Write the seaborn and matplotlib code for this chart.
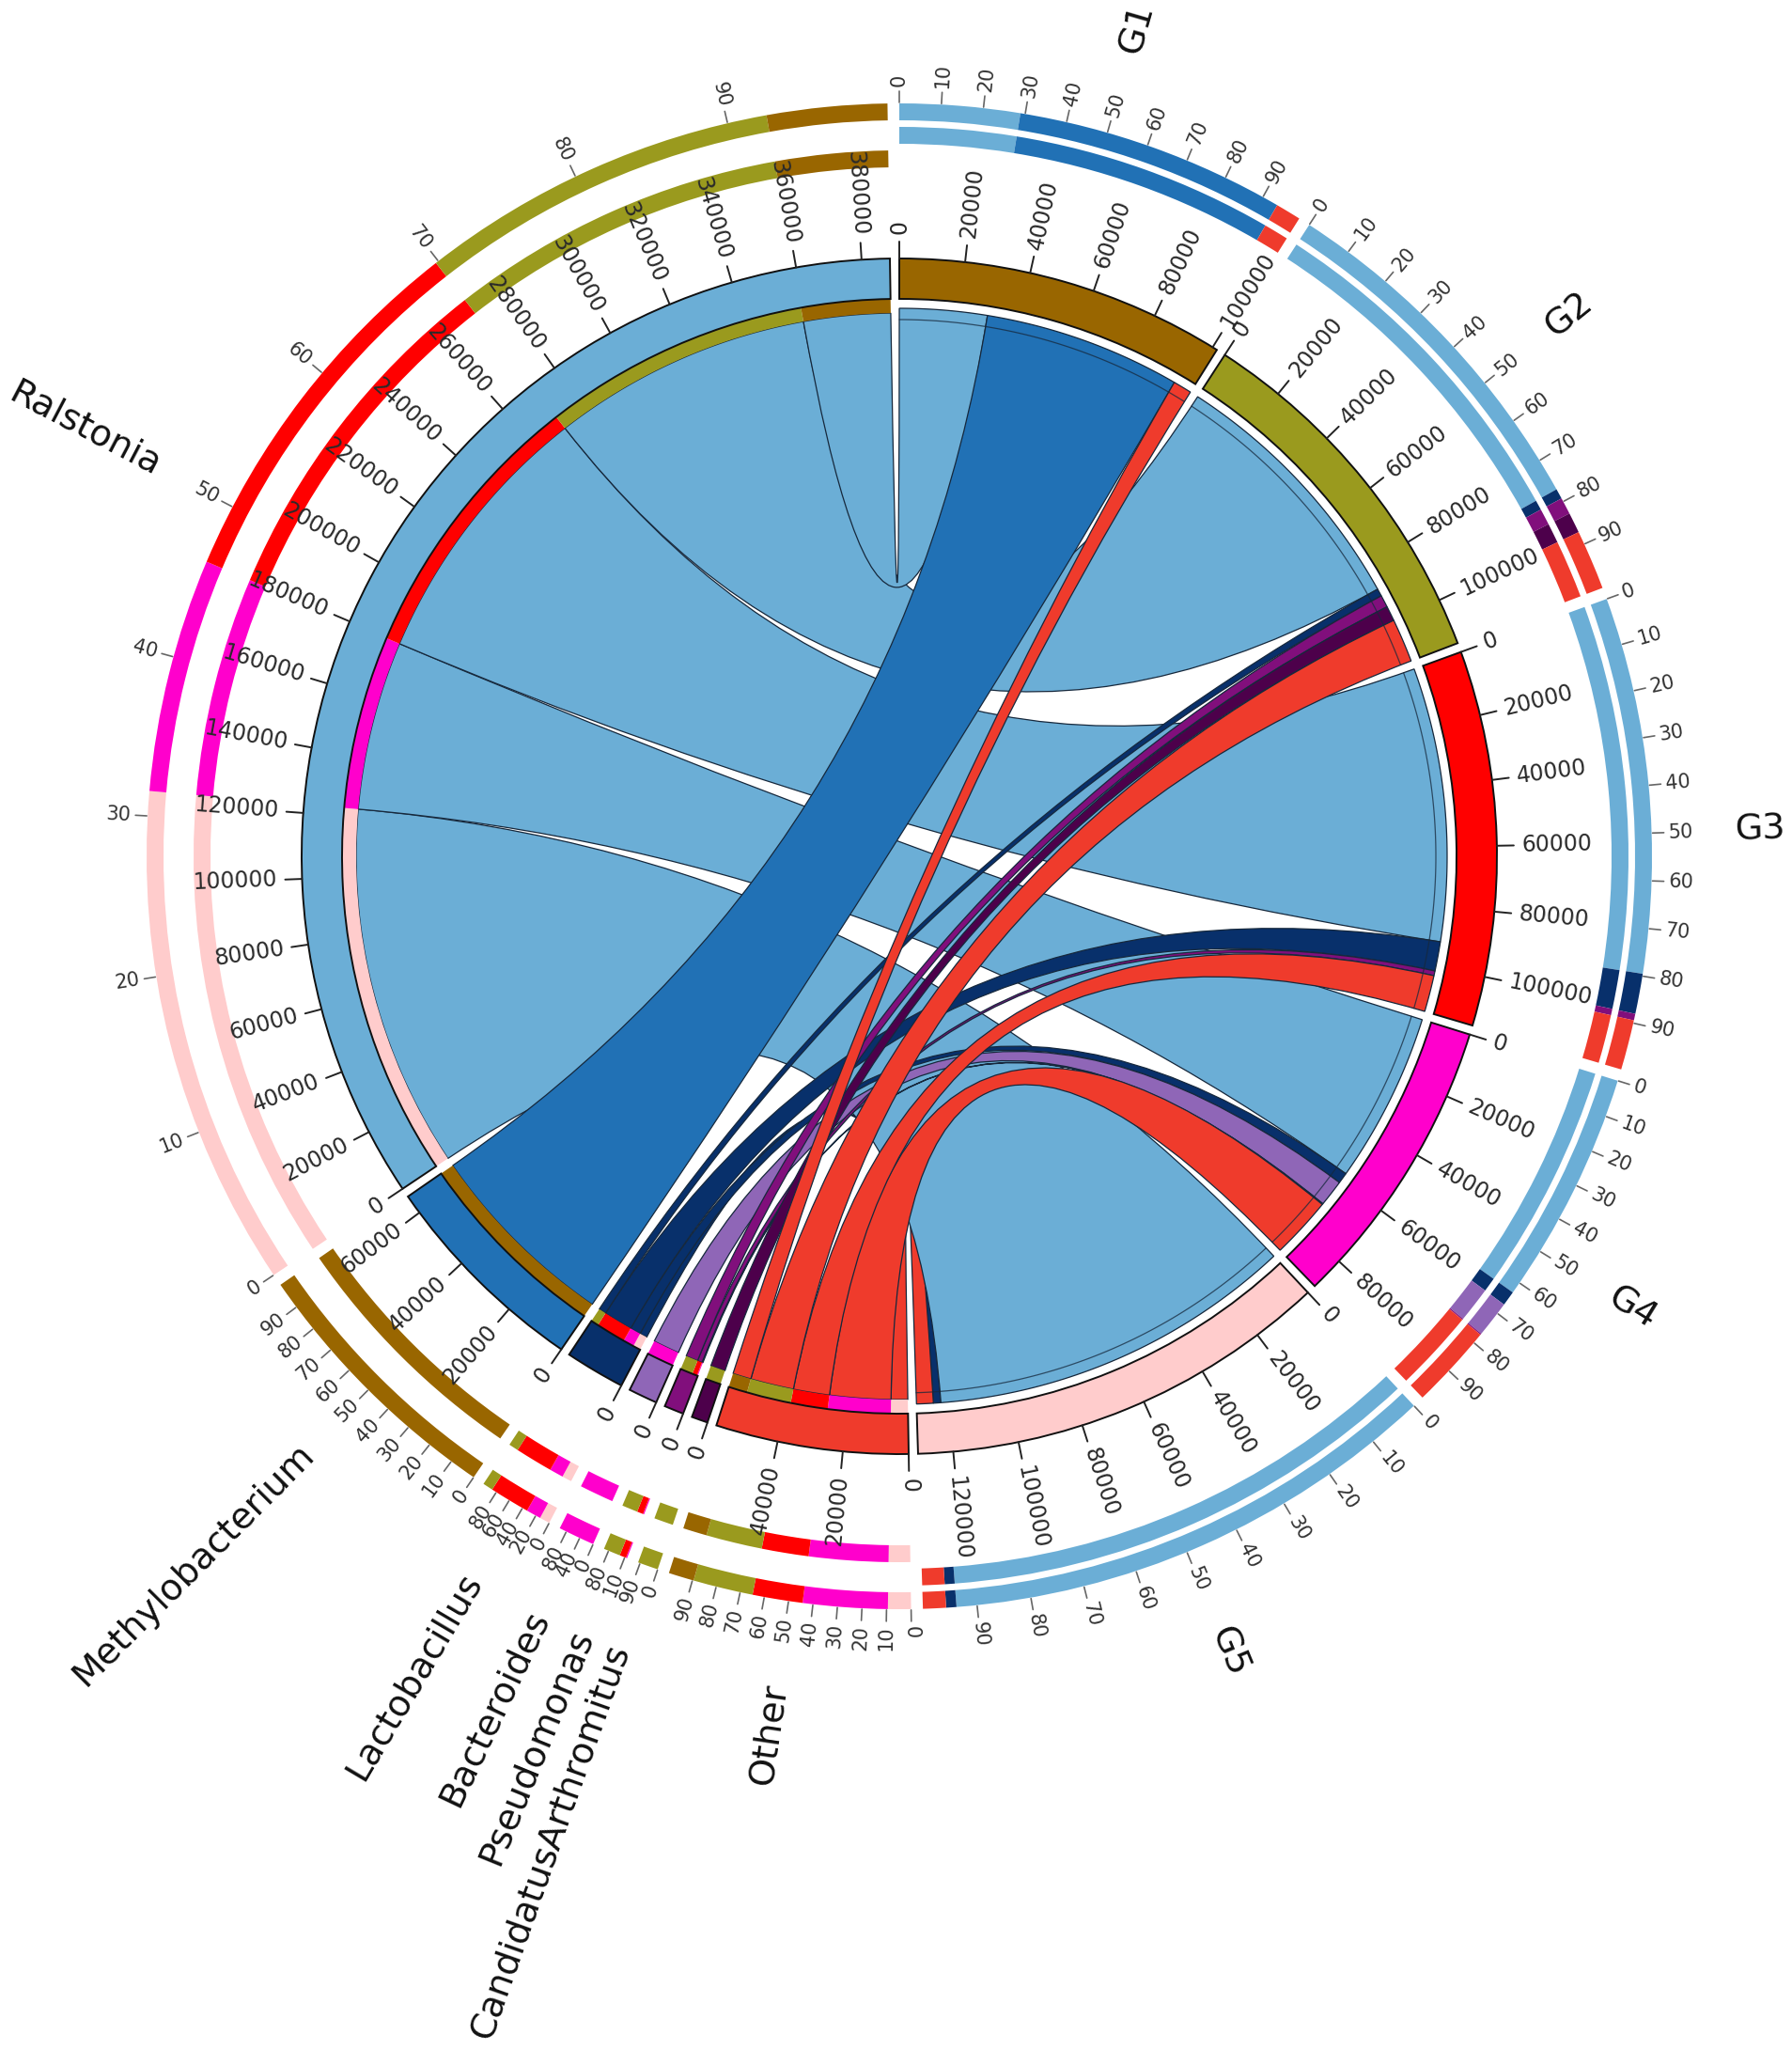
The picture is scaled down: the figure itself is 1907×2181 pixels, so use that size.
import numpy as np
import matplotlib
matplotlib.use("Agg")
import matplotlib.pyplot as plt
from matplotlib.path import Path
from matplotlib.patches import PathPatch
import seaborn as sns

sns.set_theme(style="white")
plt.rcParams['font.family'] = ['DejaVu Sans']

# groups go first round the circle, then the genera (clockwise from top)
groups = ['G1', 'G2', 'G3', 'G4', 'G5']
genera = ['Ralstonia', 'Methylobacterium', 'Lactobacillus', 'Bacteroides',
          'Pseudomonas', 'CandidatusArthromitus', 'Other']
sector_order = ['G1', 'G2', 'G3', 'G4', 'G5', 'Other', 'CandidatusArthromitus', 'Pseudomonas',
                'Bacteroides', 'Lactobacillus', 'Methylobacterium', 'Ralstonia']

# read counts, one list per genus, in the order of groups
ralstonia = [29300, 88000, 91600, 57100, 122600]
methylobacterium = [66000, 0, 0, 0, 0]
lactobacillus = [0, 2500, 9800, 3600, 2500]
bacteroides = [0, 0, 0, 8900, 0]
pseudomonas = [0, 4100, 1600, 300, 0]
candidatus = [0, 5000, 0, 0, 0]
other = [6200, 14600, 12200, 20600, 5600]
counts = np.array([ralstonia, methylobacterium, lactobacillus, bacteroides,
                   pseudomonas, candidatus, other])

group_colors = sns.color_palette(['#996600', '#9A9A1E', '#FF0000', '#FF00CC', '#FFCCCC'])
genus_colors = sns.color_palette(['#6BAED6', '#2171B5', '#08306B', '#8F66B7',
                                  '#810F7C', '#4D004B', '#EF3B2C'])
color_of = dict(zip(groups + genera, list(group_colors) + list(genus_colors)))

# tick labels
count_ticks = {'G1': range(0, 100001, 20000), 'G2': range(0, 100001, 20000),
               'G3': range(0, 100001, 20000), 'G4': range(0, 80001, 20000),
               'G5': range(0, 120001, 20000), 'Other': [0, 20000, 40000],
               'CandidatusArthromitus': [0], 'Pseudomonas': [0], 'Bacteroides': [0],
               'Lactobacillus': [0], 'Methylobacterium': [0, 20000, 40000, 60000],
               'Ralstonia': range(0, 380001, 20000)}
pct_ticks = {name: range(0, 91, 10) for name in sector_order}
pct_ticks['Lactobacillus'] = [0, 20, 40, 60, 80]
pct_ticks['Bacteroides'] = [0, 40, 80]
pct_ticks['Pseudomonas'] = [10, 80]
pct_ticks['CandidatusArthromitus'] = [0, 90]

W, H = 1907, 2181
cx, cy, Rmax = 957, 911, 1000
fig = plt.figure(figsize=(W / 100, H / 100), dpi=100, facecolor='white')
ax = fig.add_axes([(cx - Rmax) / W, (H - cy - Rmax) / H, 2 * Rmax / W, 2 * Rmax / H],
                  projection='polar')
ax.set_theta_zero_location('N')
ax.set_theta_direction(-1)
ax.set_axis_off()

gap = 0.9
totals = {g: counts[:, i].sum() for i, g in enumerate(groups)}
totals.update({g: counts[i, :].sum() for i, g in enumerate(genera)})
deg_per_unit = (360 - gap * len(sector_order)) / sum(totals.values())

starts = {}
pos = 0.0
for name in sector_order:
    starts[name] = pos
    pos += totals[name] * deg_per_unit + gap


def ang(name, value):
    return starts[name] + value * deg_per_unit


def band(a0, a1, r0, r1, color, edge='none', lw=0, z=3):
    ax.bar(np.radians((a0 + a1) / 2), r1 - r0, width=np.radians(a1 - a0), bottom=r0,
           color=color, edgecolor=edge, linewidth=lw, zorder=z)


def radial_text(a, r, s, size, color):
    a = a % 360
    if a <= 180:
        rot, ha = 90 - a, 'left'
    else:
        rot, ha = 270 - a, 'right'
    ax.text(np.radians(a), r, s, rotation=rot, ha=ha, va='center', rotation_mode='anchor',
            fontsize=size, color=color, zorder=20)


def arc(a0, a1, r, n=60):
    return [(t, r) for t in np.radians(np.linspace(a0, a1, n))]


def chord(a0, a1, b0, b1, color, z):
    verts = arc(a0, a1, 583)
    codes = [Path.MOVETO] + [Path.LINETO] * (len(verts) - 1)
    verts += [(0, 0), (np.radians(b0), 578)]
    codes += [Path.CURVE3, Path.CURVE3]
    tail = arc(b0, b1, 578)[1:]
    verts += tail
    codes += [Path.LINETO] * len(tail)
    verts += [(0, 0), (np.radians(a0), 583), (np.radians(a0), 583)]
    codes += [Path.CURVE3, Path.CURVE3, Path.CLOSEPOLY]
    ax.add_patch(PathPatch(Path(verts, codes), facecolor=color, edgecolor='#16283c',
                           linewidth=0.9, zorder=z, clip_on=False))
    inner = np.array(arc(a0, a1, 571))
    ax.plot(inner[:, 0], inner[:, 1], color='#16283c', lw=0.9, alpha=0.75, zorder=z)


# where each chord sits on its two sectors, plus the coloured strip on the genus side
spans = {}
for j, genus in enumerate(genera):
    pos_t = starts[genus]
    # a genus takes its groups in reverse order going clockwise
    for i in range(len(groups) - 1, -1, -1):
        v = counts[j, i]
        if v == 0:
            continue
        a0 = counts[:j, i].sum() * deg_per_unit + starts[groups[i]]
        spans[(j, i)] = (a0, a0 + v * deg_per_unit, pos_t, pos_t + v * deg_per_unit)
        band(pos_t, pos_t + v * deg_per_unit, 578, 593, color_of[groups[i]], z=2.5)
        pos_t += v * deg_per_unit

# chords, last group drawn first; in G5 the light blue one goes over its small ones
z = 1.0
for i in range(len(groups) - 1, -1, -1):
    order = list(range(len(genera)))
    if groups[i] == 'G5':
        order = order[1:] + order[:1]
    for j in order:
        if (j, i) in spans:
            a0, a1, b0, b1 = spans[(j, i)]
            chord(a0, a1, b0, b1, color_of[genera[j]], z)
            z += 0.01

# sectors, rings, ticks and names
for name in sector_order:
    a0 = ang(name, 0)
    a1 = ang(name, totals[name])
    band(a0, a1, 593, 636, color_of[name], edge='#101010', lw=1.4, z=4)

    if name in groups:
        i = groups.index(name)
        parts = [(genera[j], counts[j, i]) for j in range(len(genera))]
        inner_ring = (758, 776)
    else:
        j = genera.index(name)
        parts = [(groups[i], counts[j, i]) for i in range(len(groups) - 1, -1, -1)]
        inner_ring = (733, 751)
    p = a0
    for part, v in parts:
        if v == 0:
            continue
        q = p + v * deg_per_unit
        band(p, q, inner_ring[0], inner_ring[1], color_of[part])
        band(p, q, 783, 801, color_of[part])
        p = q

    for t in count_ticks[name]:
        a = np.radians(ang(name, t))
        ax.plot([a, a], [636, 654], color='#222222', lw=1.4, zorder=5)
        radial_text(np.degrees(a), 662, str(t), 17, '#2a2a2a')
    for t in pct_ticks[name]:
        a = np.radians(a0 + (a1 - a0) * t / 100)
        ax.plot([a, a], [802, 814], color='#666666', lw=1.2, zorder=5)
        radial_text(np.degrees(a), 819, str(t), 15, '#333333')
    radial_text((a0 + a1) / 2, 890, name, 27.5, '#111111')

ax.set_ylim(0, Rmax)
fig.savefig('out.png', dpi=100, facecolor='white')
